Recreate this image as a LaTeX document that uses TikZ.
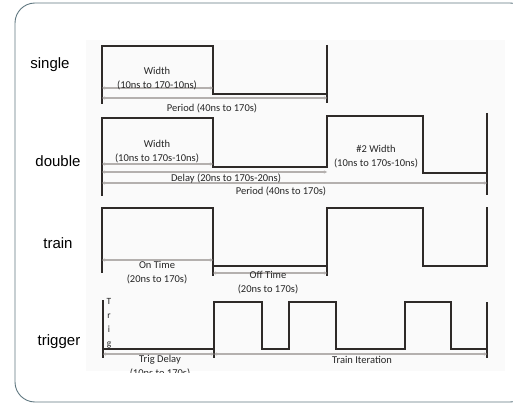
\documentclass[tikz,border=0pt]{standalone}
\usepackage{fontspec}
\setmainfont{Liberation Sans}
\newfontfamily\notefont{Carlito}
\usetikzlibrary{arrows.meta}

\definecolor{framecol}{HTML}{5F7780}
\definecolor{wavecol}{HTML}{2E2A28}
\definecolor{dimcol}{HTML}{B4B0AE}

\begin{document}
\begin{tikzpicture}[
  x=1pt, y=-1pt,
  wave/.style={draw=wavecol, line width=1.6pt, line cap=rect},
  bar/.style={draw=wavecol, line width=1.6pt},
  dim/.style={{Stealth[length=3pt,width=3pt]}-{Stealth[length=3pt,width=3pt]},
    draw=dimcol, line width=1.1pt},
  lbl/.style={font=\fontsize{15}{17}\selectfont, text=black, inner sep=0pt},
  note/.style={font=\notefont\fontsize{10.5}{14}\selectfont, text=black!85,
    align=center, inner sep=0pt}
]
\useasboundingbox (0,0) rectangle (513,403);

% frame
\draw[framecol, line width=0.9pt, rounded corners=20pt] (15,3) rectangle (530,402);
\fill[black!2] (86,40) rectangle (505,371);

% row labels
\node[lbl] (single) at (50,65) {single};
\node[lbl] (double) at (58,161) {double};
\node[lbl] (train) at (58,243) {train};
\node[lbl] (trigger) at (59,342) {trigger};

% single
\draw[wave] (102,103) -- (102,46) -- (213,46) -- (213,94) -- (327,94);
\draw[bar] (327,45) -- (327,103);
\draw[dim] (102,88) -- (213,88);
\draw[dim] (102,98) -- (327,98);
\node[note] (swidth) at (157,79) {Width\\(10ns to 170-10ns)};
\node[note] (speriod) at (212,108) {Period (40ns to 170s)};

% double
\draw[wave] (102,195) -- (102,118) -- (213,118) -- (213,167) -- (327,167)
  -- (327,116) -- (423,116) -- (423,173) -- (487,173);
\draw[bar] (487,113) -- (487,195);
\draw[dim] (102,164) -- (213,164);
\draw[dim] (102,172) -- (327,172);
\draw[dim] (102,183) -- (487,183);
\node[note] (dwidth) at (157,152) {Width\\(10ns to 170s-10ns)};
\node[note] (dwidthb) at (376,157) {\#2 Width\\(10ns to 170s-10ns)};
\node[note] (ddelay) at (226,179) {Delay (20ns to 170s-20ns)};
\node[note] (dperiod) at (281,191) {Period (40ns to 170s)};

% train
\draw[wave] (102,272) -- (102,208) -- (213,208) -- (213,266) -- (327,266)
  -- (327,208) -- (423,208) -- (423,266) -- (487,266) -- (487,208);
\draw[bar] (213,266) -- (213,276);
\draw[bar] (327,266) -- (327,276);
\draw[dim] (102,260) -- (213,260);
\draw[dim] (213,273) -- (327,273);
\node[note] (ontime) at (157,273) {On Time\\(20ns to 170s)};
\node[note] (offtime) at (268,283) {Off Time\\(20ns to 170s)};

% trigger
\draw[bar] (103,300) -- (103,358);
\draw[wave] (103,349) -- (214,349) -- (214,302) -- (262,302) -- (262,349)
  -- (289,349) -- (289,302) -- (336,302) -- (336,349) -- (405,349)
  -- (405,302) -- (451,302) -- (451,349) -- (487,349);
\draw[bar] (214,349) -- (214,358);
\draw[bar] (487,302) -- (487,358);
\draw[dim] (103,354) -- (214,354);
\draw[dim] (214,354) -- (487,354);
\node[note, font=\notefont\fontsize{9.5}{14}\selectfont] (trig) at (109,323)
  {T\\r\\i\\g};
\node[note] (iter) at (362,360) {Train Iteration};
\begin{scope}
  \clip (86,340) rectangle (505,372);
  \node[note] (tdelay) at (160,367) {Trig Delay\\(10ns to 170s)};
\end{scope}
\end{tikzpicture}
\end{document}
